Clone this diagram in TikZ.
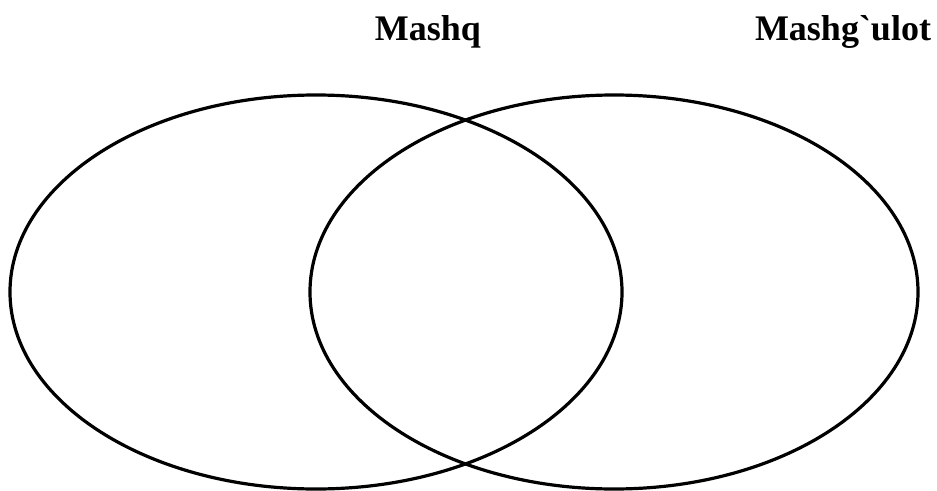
\documentclass[tikz,border=0pt]{standalone}
\usepackage{fontspec}
\setmainfont{Liberation Serif}[Ligatures=TeXOff]
\begin{document}
\begin{tikzpicture}[x=1pt,y=-1pt,
  venn/.style={draw=black,line width=3.2pt},
  lbl/.style={anchor=base,inner sep=0pt,font=\fontsize{36}{40}\selectfont\bfseries}]
\useasboundingbox (0,0) rectangle (937,490);
\draw[venn] (316,292) ellipse [x radius=306, y radius=197];
\draw[venn] (614,292) ellipse [x radius=304, y radius=197];
\node[lbl] (a) at (428,40) {Mashq};
\node[lbl] (b) at (843,40) {Mashg`ulot};
\end{tikzpicture}
\end{document}
